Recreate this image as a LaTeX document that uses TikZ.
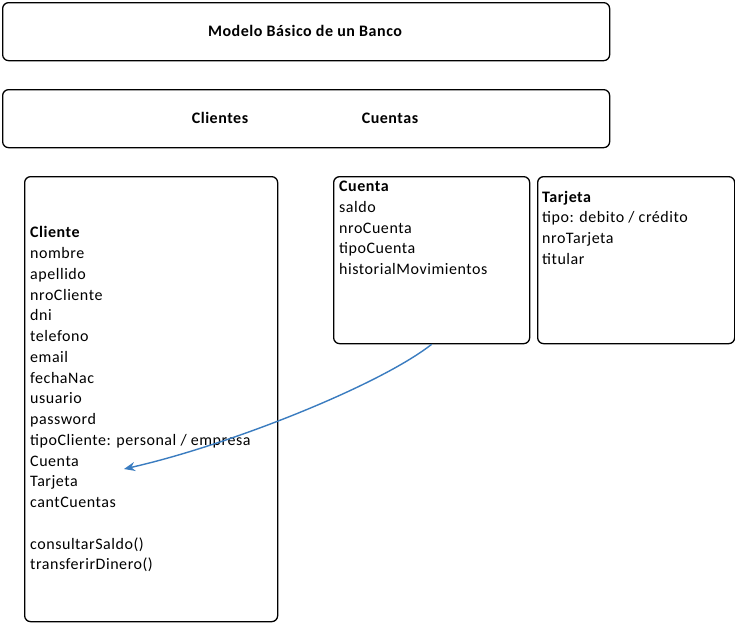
\documentclass[tikz,border=0pt]{standalone}
\usepackage{fontspec}
\setmainfont[LetterSpace=3.4]{Carlito}
\usetikzlibrary{arrows.meta}
\definecolor{linkblue}{RGB}{58,124,192}
\tikzset{
  classbox/.style={draw, line width=1.3pt, rounded corners=6pt, anchor=north west, inner sep=0pt},
  attr/.style={anchor=west, inner sep=0pt, text height=10pt, text depth=3pt},
  heading/.style={font=\fontsize{16}{18}\selectfont\bfseries, inner sep=0pt}
}
\begin{document}
\begin{tikzpicture}[x=1pt, y=-1pt, every node/.append style={font=\fontsize{16}{18}\selectfont}]
        \useasboundingbox[fill=white] (0,0) rectangle (735,624);
        % title boxes
        \node[classbox, minimum width=607pt, minimum height=58pt] (banco) at (2,2) {};
        \node[heading] (titulo) at (305,31) {Modelo Básico de un Banco};
        \node[classbox, minimum width=607pt, minimum height=58pt] (secciones) at (2,89) {};
        \node[heading] (clientes) at (220,118) {Clientes};
        \node[heading] (cuentas) at (390,118) {Cuentas};

        % class boxes
        \node[classbox, minimum width=253pt, minimum height=445pt] (cliente) at (24,176) {};
        \node[classbox, minimum width=196pt, minimum height=167pt] (cuenta) at (333,176) {};
        \node[classbox, minimum width=197pt, minimum height=167pt] (tarjeta) at (537,176) {};

        % Cliente
        \node[attr, font=\fontsize{16}{18}\selectfont\bfseries] (cl0) at (30,234) {Cliente};
        \node[attr] (cl1) at (30,255) {nombre};
        \node[attr] (cl2) at (30,276) {apellido};
        \node[attr] (cl3) at (30,297) {nroCliente};
        \node[attr] (cl4) at (30,317) {dni};
        \node[attr] (cl5) at (30,338) {telefono};
        \node[attr] (cl6) at (30,359) {email};
        \node[attr] (cl7) at (30,380) {fechaNac};
        \node[attr] (cl8) at (30,400) {usuario};
        \node[attr] (cl9) at (30,421) {password};
        \node[attr] (cl10) at (30,442) {tipoCliente: personal / empresa};
        \node[attr] (cl11) at (30,463) {Cuenta};
        \node[attr] (cl12) at (30,483) {Tarjeta};
        \node[attr] (cl13) at (30,504) {cantCuentas};
        \node[attr] (cl14) at (30,546) {consultarSaldo()};
        \node[attr] (cl15) at (30,566) {transferirDinero()};

        % Cuenta
        \node[attr, font=\fontsize{16}{18}\selectfont\bfseries] (cu0) at (339,188) {Cuenta};
        \node[attr] (cu1) at (339,209) {saldo};
        \node[attr] (cu2) at (339,230) {nroCuenta};
        \node[attr] (cu3) at (339,250) {tipoCuenta};
        \node[attr] (cu4) at (339,271) {historialMovimientos};

        % Tarjeta
        \node[attr, font=\fontsize{16}{18}\selectfont\bfseries] (ta0) at (542,199) {Tarjeta};
        \node[attr] (ta1) at (542,219) {tipo: debito / crédito};
        \node[attr] (ta2) at (542,240) {nroTarjeta};
        \node[attr] (ta3) at (542,261) {titular};

        % link
        \coordinate (cuentaref) at (124,469);
        \draw[linkblue, line width=1.4pt, -{Stealth[length=11pt, width=9pt]}]
            (cuenta.south) .. controls (380,385) and (230,445) .. (cuentaref);
\end{tikzpicture}
\end{document}
